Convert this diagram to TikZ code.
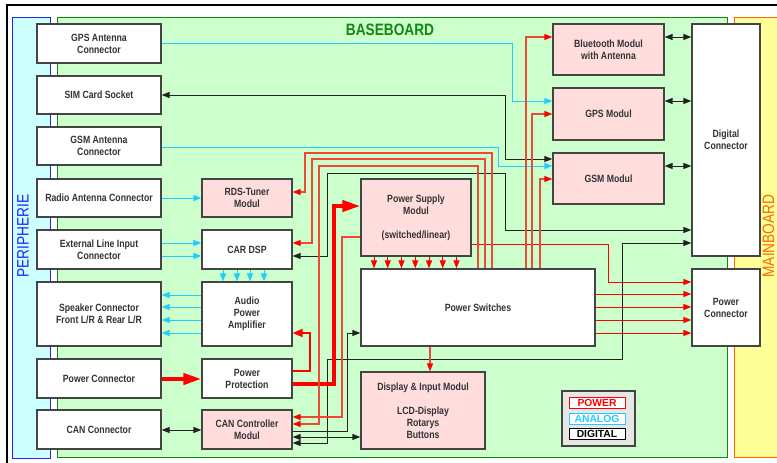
\documentclass[tikz,border=0pt]{standalone}
\usepackage{fontspec}
\setmainfont{Liberation Sans}
\newfontfamily\boxfont[FakeStretch=0.83]{Liberation Sans}
\newfontfamily\legfont{Liberation Sans}
\usetikzlibrary{arrows.meta}
\definecolor{pericyan}{HTML}{CCFFFF}
\definecolor{periblue}{HTML}{2222FF}
\definecolor{baselight}{HTML}{CCFFCC}
\definecolor{basegreen}{HTML}{118811}
\definecolor{mainyellow}{HTML}{FFFF99}
\definecolor{mainorange}{HTML}{FF6600}
\definecolor{boxgray}{HTML}{444444}
\definecolor{txtgray}{HTML}{333333}
\definecolor{pinkfill}{HTML}{FFDDDD}
\definecolor{leggray}{HTML}{E6E6E6}
\definecolor{anacol}{HTML}{22CCFF}
\definecolor{digcol}{HTML}{222222}
\definecolor{pwrcol}{HTML}{F04838}
\newcommand\bxf{\boxfont\bfseries\fontsize{10.5}{12}\selectfont}
\tikzset{
  box/.style={draw=boxgray, line width=1.2pt, fill=white, inner sep=0pt, align=center, text=txtgray, font=\bxf},
  pbox/.style={box, fill=pinkfill},
  ana/.style={draw=anacol, line width=1pt, -{Triangle[length=8pt,width=6pt]}},
  dg/.style={draw=digcol, line width=1pt, -{Triangle[length=8pt,width=6pt]}},
  dgb/.style={draw=digcol, line width=1pt, {Triangle[length=8pt,width=6pt]}-{Triangle[length=8pt,width=6pt]}},
  pw/.style={draw=pwrcol, line width=1.2pt, -{Triangle[length=8pt,width=6pt,color=red]}},
  pwr/.style={draw=red, line width=1pt, -{Triangle[length=8pt,width=6pt]}},
  pwthick/.style={draw=red, line width=4pt, line join=miter, -{Triangle[length=18pt,width=11pt]}},
  legbox/.style={draw, fill=white, line width=1pt, inner sep=0pt, minimum width=56pt, minimum height=11pt, font=\legfont\bfseries\fontsize{10.3}{11}\selectfont}
}
\begin{document}
\begin{tikzpicture}[x=1pt,y=-1pt]
\useasboundingbox (0,0) rectangle (777,463);
\fill[white] (0,0) rectangle (777,463);
\draw[line width=2pt] (7,470) -- (7,5) -- (790,5);
% panels
\filldraw[draw=periblue, fill=pericyan, line width=1pt] (12,17) rectangle (50,458);
\filldraw[draw=basegreen, fill=baselight, line width=1pt] (57,17) rectangle (727,457);
\filldraw[draw=mainorange, fill=mainyellow, line width=1pt] (734,17) rectangle (790,457);
\node[rotate=90, text=periblue, font=\boxfont\fontsize{16.5}{18}\selectfont] (peri) at (23,236) {PERIPHERIE};
\node[rotate=90, text=mainorange, font=\boxfont\fontsize{16.5}{18}\selectfont] (mainb) at (768.5,236) {MAINBOARD};
\node[text=basegreen, font=\boxfont\bfseries\fontsize{16.5}{18}\selectfont] (baseb) at (390,30) {BASEBOARD};
% left column
\node[box, minimum width=124pt, minimum height=39pt] (gpsant) at (99,43.5) {GPS Antenna\\Connector};
\node[box, minimum width=124pt, minimum height=38pt] (sim) at (99,95) {SIM Card Socket};
\node[box, minimum width=124pt, minimum height=38pt] (gsmant) at (99,146) {GSM Antenna\\Connector};
\node[box, minimum width=124pt, minimum height=38pt] (radio) at (99,198) {Radio Antenna Connector};
\node[box, minimum width=124pt, minimum height=39pt] (extin) at (99,249.5) {External Line Input\\Connector};
\node[box, minimum width=124pt, minimum height=64pt] (spk) at (99,314) {Speaker Connector\\Front L/R \& Rear L/R};
\node[box, minimum width=124pt, minimum height=39pt] (pwrcon) at (99,378.5) {Power Connector};
\node[box, minimum width=124pt, minimum height=39pt] (can) at (99,429.5) {CAN Connector};
% second column
\node[pbox, minimum width=90pt, minimum height=38pt] (rds) at (247,198) {RDS-Tuner\\Modul};
\node[box, minimum width=90pt, minimum height=39pt] (dsp) at (247,249.5) {CAR DSP};
\node[box, minimum width=90pt, minimum height=64pt] (amp) at (247,314) {Audio\\Power\\Amplifier};
\node[box, minimum width=90pt, minimum height=39pt] (prot) at (247,378.5) {Power\\Protection};
\node[pbox, minimum width=90pt, minimum height=39pt] (canc) at (247,429.5) {CAN Controller\\Modul};
% centre
\node[pbox, minimum width=110pt, minimum height=77pt] (psu) at (416,217.5) {Power Supply\\Modul\\[12pt](switched/linear)};
\node[box, minimum width=234pt, minimum height=77pt] (psw) at (478,307.5) {Power Switches};
\node[pbox, minimum width=124pt, minimum height=77pt] (disp) at (423,410.5) {Display \& Input Modul\\[12pt]LCD-Display\\Rotarys\\Buttons};
% right modules
\node[pbox, minimum width=111pt, minimum height=51pt] (bt) at (608.5,49.5) {Bluetooth Modul\\with Antenna};
\node[pbox, minimum width=111pt, minimum height=52pt] (gpsm) at (608.5,114) {GPS Modul};
\node[pbox, minimum width=111pt, minimum height=51pt] (gsmm) at (608.5,178.5) {GSM Modul};
\node[box, minimum width=68pt, minimum height=232pt] (dig) at (726,140) {Digital\\Connector};
\node[box, minimum width=68pt, minimum height=77pt] (pcon) at (726,307.5) {Power\\Connector};
% legend
\node[draw=boxgray, fill=leggray, line width=1.2pt, minimum width=73pt, minimum height=55pt, inner sep=0pt] (leg) at (598.5,418.5) {};
\node[legbox, draw=red, text=red] (lpow) at (597,402.5) {POWER};
\node[legbox, draw=anacol, text=anacol] (lana) at (597,418.5) {ANALOG};
\node[legbox, draw=black, text=black] (ldig) at (597,434) {DIGITAL};
% analog
\draw[ana] (gpsant.east |- 0,43) -- (512,43) -- (512,101) -- (gpsm.west |- 0,101);
\draw[ana] (gsmant.east |- 0,147) -- (498,147) -- (498,166) -- (gsmm.west |- 0,166);
\draw[ana] (radio.east |- 0,198) -- (rds.west |- 0,198);
\draw[ana] (extin.east |- 0,243) -- (dsp.west |- 0,243);
\draw[ana] (extin.east |- 0,256) -- (dsp.west |- 0,256);
\foreach \xx in {223,237,250,264} \draw[ana] (dsp.south -| \xx,0) -- (amp.north -| \xx,0);
\foreach \yy in {295,307,320,333} \draw[ana] (amp.west |- 0,\yy) -- (spk.east |- 0,\yy);
% digital
\draw[dgb] (sim.east) -- (505,95) -- (505,159) -- (gsmm.west |- 0,159);
\draw[dgb] (dsp.east |- 0,256) -- (327,256) -- (327,173) -- (505,173) -- (505,230) -- (dig.west |- 0,230);
\draw[dgb] (canc.east |- 0,443) -- (327,443) -- (327,359) -- (622,359) -- (622,243) -- (dig.west |- 0,243);
\draw[dg] (canc.east |- 0,431) -- (347,431) -- (347,333) -- (psw.west |- 0,333);
\draw[dgb] (canc.east |- 0,437) -- (disp.west |- 0,437);
\draw[dgb] (bt.east |- 0,37) -- (dig.west |- 0,37);
\draw[dgb] (gpsm.east |- 0,101) -- (dig.west |- 0,101);
\draw[dgb] (gsmm.east |- 0,166) -- (dig.west |- 0,166);
\draw[dgb] (can.east |- 0,430) -- (canc.west |- 0,430);
% power
\draw[pwthick] (pwrcon.east |- 0,379) -- (prot.west |- 0,379);
\draw[pwthick] (prot.east |- 0,384) -- (334,384) -- (334,206) -- (psu.west |- 0,206);
\draw[draw=red, line width=2pt, -{Triangle[length=10pt,width=8pt]}] (prot.east |- 0,371) -- (310,371) -- (310,333) -- (amp.east |- 0,333);
\foreach \xx in {374,387.75,401.5,415.25,429,442.75,456.5} \draw[pwr] (psu.south -| \xx,0) -- (psw.north -| \xx,0);
\draw[pw] (psw.south -| 430,0) -- (disp.north -| 430,0);
\foreach \yy in {294,307,320,333} \draw[pwr] (psw.east |- 0,\yy) -- (pcon.west |- 0,\yy);
\draw[pwr] (psu.east |- 0,244) -- (608,244) -- (608,282) -- (pcon.west |- 0,282);
\draw[pw] (psw.north -| 526,0) -- (526,37) -- (bt.west |- 0,37);
\draw[pw] (psw.north -| 532,0) -- (532,114) -- (gpsm.west |- 0,114);
\draw[pw] (psw.north -| 540,0) -- (540,179) -- (gsmm.west |- 0,179);
\draw[pw] (psw.north -| 492,0) -- (492,153) -- (305,153) -- (305,192) -- (rds.east |- 0,192);
\draw[pw] (psw.north -| 485,0) -- (485,159) -- (312,159) -- (312,243) -- (dsp.east |- 0,243);
\draw[pw] (psw.north -| 478,0) -- (478,166) -- (319,166) -- (319,424) -- (canc.east |- 0,424);
\draw[pw] (psu.west |- 0,237) -- (342,237) -- (342,417) -- (canc.east |- 0,417);
\end{tikzpicture}
\end{document}
